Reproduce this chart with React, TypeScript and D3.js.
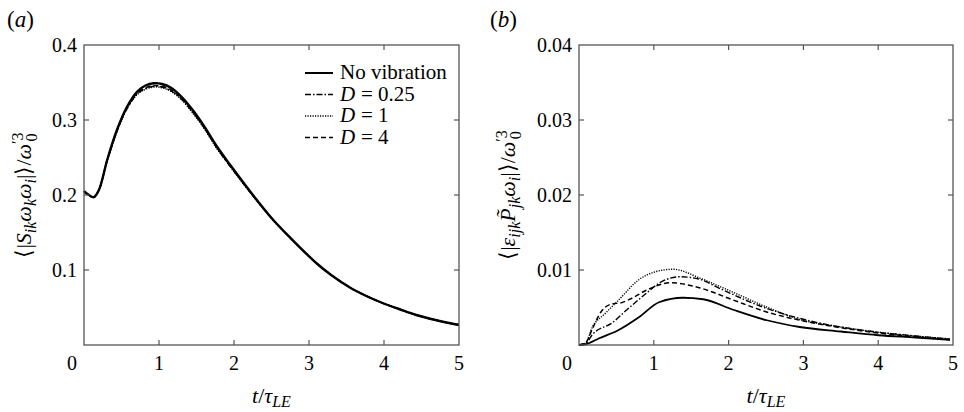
import React from "react";
import * as d3 from "d3";

// ---------- Data ----------
const xTicks = [0, 1, 2, 3, 4, 5];
const yTicksA = [0, 0.1, 0.2, 0.3, 0.4];
const yTicksB = [0, 0.01, 0.02, 0.03, 0.04];
const yTickLabelsA = ["0", "0.1", "0.2", "0.3", "0.4"];
const yTickLabelsB = ["0", "0.01", "0.02", "0.03", "0.04"];

const legendLabels = ["No vibration", "= 0.25", "= 1", "= 4"];

// Panel (a)
const tA = [0, 0.05, 0.13, 0.2, 0.31, 0.44, 0.57, 0.71, 0.82, 0.93, 1.04, 1.16, 1.3, 1.46, 1.6, 1.77, 1.95, 2.13, 2.3, 2.53, 2.75, 3.1, 3.3, 3.54, 3.75, 3.98, 4.2, 4.43, 4.7, 4.93, 5.0];
const aNoVib = [0.205, 0.201, 0.197, 0.207, 0.247, 0.287, 0.317, 0.338, 0.346, 0.349, 0.348, 0.343, 0.331, 0.312, 0.292, 0.265, 0.240, 0.216, 0.194, 0.166, 0.143, 0.109, 0.093, 0.077, 0.066, 0.056, 0.048, 0.040, 0.033, 0.028, 0.027];
const aD025 = [0.205, 0.201, 0.197, 0.207, 0.246, 0.285, 0.314, 0.335, 0.342, 0.345, 0.344, 0.339, 0.328, 0.309, 0.290, 0.263, 0.238, 0.215, 0.193, 0.166, 0.143, 0.109, 0.093, 0.077, 0.066, 0.056, 0.048, 0.040, 0.033, 0.028, 0.027];
const aD1 = [0.205, 0.201, 0.197, 0.207, 0.246, 0.285, 0.315, 0.334, 0.341, 0.344, 0.343, 0.338, 0.327, 0.308, 0.289, 0.262, 0.238, 0.214, 0.193, 0.165, 0.143, 0.109, 0.093, 0.077, 0.066, 0.056, 0.048, 0.040, 0.033, 0.028, 0.027];
const aD4 = [0.205, 0.201, 0.197, 0.207, 0.247, 0.286, 0.316, 0.336, 0.343, 0.346, 0.345, 0.340, 0.329, 0.310, 0.290, 0.264, 0.239, 0.215, 0.193, 0.166, 0.143, 0.109, 0.093, 0.077, 0.066, 0.056, 0.048, 0.040, 0.033, 0.028, 0.027];

// Panel (b)
const tBNoVib = [0, 0.09, 0.27, 0.53, 0.8, 1.07, 1.39, 1.66, 2.06, 2.51, 2.95, 3.5, 4.0, 4.5, 4.96];
const bNoVib = [0, 0.0001, 0.0009, 0.002, 0.0037, 0.0057, 0.0063, 0.0061, 0.0047, 0.0033, 0.0024, 0.0018, 0.0013, 0.001, 0.0007];
const tBD025 = [0, 0.09, 0.18, 0.45, 0.64, 0.9, 1.08, 1.35, 1.6, 1.89, 2.42, 3.05, 3.5, 4.0, 4.5, 4.96];
const bD025 = [0, 0.0002, 0.0014, 0.003, 0.0047, 0.0069, 0.0083, 0.0091, 0.0088, 0.0075, 0.0052, 0.0033, 0.0024, 0.0017, 0.0012, 0.0008];
const tBD1 = [0, 0.09, 0.18, 0.35, 0.53, 0.8, 1.0, 1.26, 1.62, 2.0, 2.5, 2.95, 3.5, 4.0, 4.5, 4.96];
const bD1 = [0, 0.0003, 0.0024, 0.0042, 0.006, 0.0087, 0.0097, 0.0101, 0.0089, 0.0073, 0.0051, 0.0034, 0.0024, 0.0017, 0.0012, 0.0008];
const tBD4 = [0, 0.09, 0.18, 0.3, 0.45, 0.55, 0.7, 0.9, 1.22, 1.62, 2.06, 2.51, 3.05, 3.5, 4.0, 4.5, 4.96];
const bD4 = [0, 0.0003, 0.0022, 0.0045, 0.0055, 0.0056, 0.0062, 0.0073, 0.0083, 0.0076, 0.006, 0.0044, 0.0031, 0.0023, 0.0016, 0.0011, 0.0007];

// ---------- Styles ----------
const SERIF = { fontFamily: "Liberation Serif" };
const AXIS = "#555";
const styles = [
  { dash: "none", width: 2 },
  { dash: "6,2,1.5,2", width: 1.4 },
  { dash: "1.2,1.3", width: 1.4 },
  { dash: "5,3", width: 1.5 },
];

type Series = { t: number[]; v: number[] };

function Panel(props: {
  left: number; right: number; top: number; bottom: number;
  yMax: number; yTicks: number[]; yLabels: string[];
  series: Series[]; mainWidth: number; ylabel: React.ReactNode; ylabelX: number;
  tag: string; tagX: number; legend?: boolean; curve: any;
}) {
  const { left, right, top, bottom, yMax, yTicks, yLabels, series } = props;
  const x = d3.scaleLinear().domain([0, 5]).range([left, right]);
  const y = d3.scaleLinear().domain([0, yMax]).range([bottom, top]);
  const tickLen = 5;
  const order = [1, 2, 3, 0];
  return (
    <g>
      {order.map((i) => {
        const s = series[i];
        const pts: [number, number][] = s.t.map((t, k) => [t, s.v[k]]);
        const line = d3.line<[number, number]>()
          .x((d) => x(d[0])).y((d) => y(d[1]))
          .curve(props.curve);
        return (
          <path key={i} d={line(pts) || ""} fill="none" stroke="#000"
            strokeWidth={i === 0 ? props.mainWidth : styles[i].width}
            strokeDasharray={styles[i].dash} />
        );
      })}
      <rect x={left} y={top} width={right - left} height={bottom - top} fill="none" stroke={AXIS} strokeWidth={1.3} />
      {xTicks.slice(1, -1).map((t) => (
        <g key={"xt" + t}>
          <line x1={x(t)} x2={x(t)} y1={bottom} y2={bottom - tickLen} stroke={AXIS} strokeWidth={1.2} />
          <line x1={x(t)} x2={x(t)} y1={top} y2={top + tickLen} stroke={AXIS} strokeWidth={1.2} />
        </g>
      ))}
      {yTicks.slice(1, -1).map((t) => (
        <g key={"yt" + t}>
          <line x1={left} x2={left + tickLen} y1={y(t)} y2={y(t)} stroke={AXIS} strokeWidth={1.2} />
          <line x1={right} x2={right - tickLen} y1={y(t)} y2={y(t)} stroke={AXIS} strokeWidth={1.2} />
        </g>
      ))}
      {xTicks.slice(1).map((t) => (
        <text key={"xl" + t} x={x(t)} y={370} textAnchor="middle" fontSize={20} style={SERIF}>{String(t)}</text>
      ))}
      {yTicks.slice(1).map((t, k) => (
        <text key={"yl" + t} x={left - 7} y={y(t) + 7} textAnchor="end" fontSize={20} style={SERIF}>{yLabels[k + 1]}</text>
      ))}
      <text x={left - 7} y={370} textAnchor="end" fontSize={20} style={SERIF}>{yLabels[0]}</text>
      <text x={(left + right) / 2} y={403} textAnchor="middle" fontSize={22} style={SERIF}>
        <tspan fontStyle="italic">t</tspan>
        <tspan>/</tspan>
        <tspan fontStyle="italic">τ</tspan>
        <tspan fontStyle="italic" fontSize={16} dy={4}>LE</tspan>
      </text>
      <text transform={`translate(${props.ylabelX},${(top + bottom) / 2}) rotate(-90)`} textAnchor="middle" fontSize={22} style={SERIF}>
        {props.ylabel}
      </text>
      <text x={props.tagX} y={27} fontSize={23} style={SERIF}>
        <tspan>(</tspan><tspan fontStyle="italic">{props.tag}</tspan><tspan>)</tspan>
      </text>
      {props.legend && legendLabels.map((lab, i) => {
        const yy = 79 + i * 21.5;
        return (
          <g key={lab}>
            <line x1={305} x2={333} y1={yy - 6} y2={yy - 6} stroke="#000"
              strokeWidth={i === 0 ? 2 : styles[i].width} strokeDasharray={styles[i].dash} />
            {i === 0 ? (
              <text x={340} y={yy} fontSize={21} style={SERIF}>{lab}</text>
            ) : (
              <>
                <text x={340} y={yy} fontSize={21} fontStyle="italic" style={SERIF}>D</text>
                <text x={361} y={yy} fontSize={21} style={SERIF}>{lab}</text>
              </>
            )}
          </g>
        );
      })}
    </g>
  );
}

const ylabelA = (
  <>
    <tspan>⟨|</tspan>
    <tspan fontStyle="italic">S</tspan>
    <tspan fontStyle="italic" fontSize={16} dy={5}>ik</tspan>
    <tspan fontStyle="italic" dy={-5}>ω</tspan>
    <tspan fontStyle="italic" fontSize={16} dy={5}>k</tspan>
    <tspan fontStyle="italic" dy={-5}>ω</tspan>
    <tspan fontStyle="italic" fontSize={16} dy={5}>i</tspan>
    <tspan dy={-5}>|⟩/</tspan>
    <tspan fontStyle="italic">ω</tspan>
    <tspan fontSize={16} dy={-8}>′3</tspan>
    <tspan fontSize={16} dx={-9} dy={14}>0</tspan>
  </>
);

const ylabelB = (
  <>
    <tspan>⟨|</tspan>
    <tspan fontStyle="italic">ε</tspan>
    <tspan fontStyle="italic" fontSize={16} dy={5}>ijk</tspan>
    <tspan fontStyle="italic" dy={-5}>P̃</tspan>
    <tspan fontStyle="italic" fontSize={16} dy={5}>jk</tspan>
    <tspan fontStyle="italic" dy={-5}>ω</tspan>
    <tspan fontStyle="italic" fontSize={16} dy={5}>i</tspan>
    <tspan dy={-5}>|⟩/</tspan>
    <tspan fontStyle="italic">ω</tspan>
    <tspan fontSize={16} dy={-8}>′3</tspan>
    <tspan fontSize={16} dx={-9} dy={14}>0</tspan>
  </>
);

export default function App() {
  const seriesA: Series[] = [
    { t: tA, v: aNoVib }, { t: tA, v: aD025 }, { t: tA, v: aD1 }, { t: tA, v: aD4 },
  ];
  const seriesB: Series[] = [
    { t: tBNoVib, v: bNoVib }, { t: tBD025, v: bD025 }, { t: tBD1, v: bD1 }, { t: tBD4, v: bD4 },
  ];
  return (
    <svg width={964} height={412} style={{ position: "absolute", left: 0, top: 0 }}>
      <Panel left={84} right={459} top={45} bottom={345} yMax={0.4} yTicks={yTicksA} yLabels={yTickLabelsA}
        series={seriesA} mainWidth={2.4} ylabel={ylabelA} ylabelX={31} tag="a" tagX={7} legend curve={d3.curveCatmullRom} />
      <Panel left={579} right={953} top={45} bottom={345} yMax={0.04} yTicks={yTicksB} yLabels={yTickLabelsB}
        series={seriesB} mainWidth={1.8} ylabel={ylabelB} ylabelX={515} tag="b" tagX={490} curve={d3.curveMonotoneX} />
    </svg>
  );
}
